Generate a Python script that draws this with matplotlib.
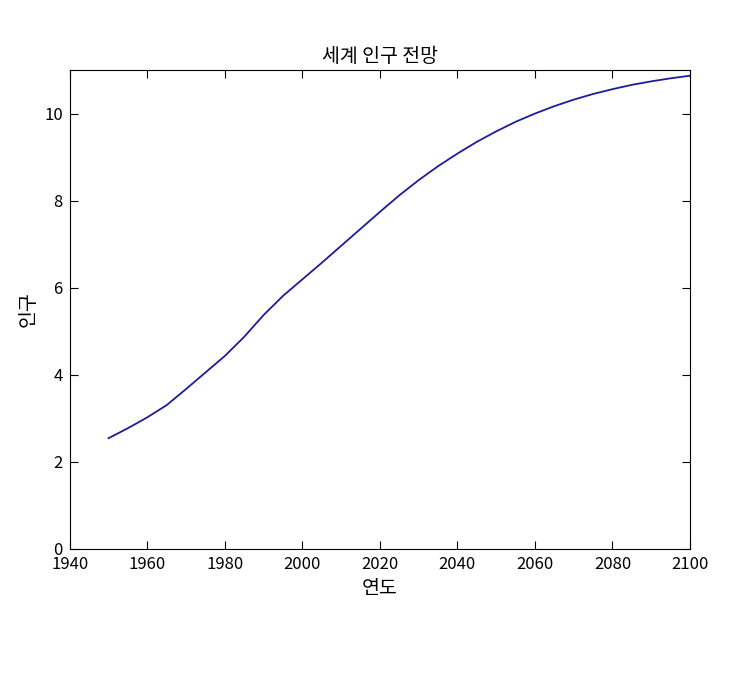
import matplotlib
matplotlib.use("Agg")
import matplotlib.pyplot as plt

plt.rcParams['font.family'] = ['Noto Sans CJK KR', 'DejaVu Sans']

years = [1950, 1955, 1960, 1965, 1970, 1975, 1980, 1985, 1990, 1995, 2000, 2005,
         2010, 2015, 2020, 2025, 2030, 2035, 2040, 2045, 2050, 2055, 2060, 2065,
         2070, 2075, 2080, 2085, 2090, 2095, 2100]
population = [2.54, 2.77, 3.02, 3.30, 3.67, 4.05, 4.43, 4.87, 5.37, 5.81, 6.19, 6.57,
              6.96, 7.35, 7.74, 8.12, 8.47, 8.79, 9.08, 9.35, 9.59, 9.81, 10.00, 10.17,
              10.32, 10.45, 10.56, 10.66, 10.74, 10.81, 10.87]

fig = plt.figure(figsize=(7.5, 6.8), dpi=100)
ax = fig.add_axes([0.093, 0.193, 0.827, 0.704])
ax.plot(years, population, color='#1c1c9c', linewidth=1.3)
ax.set_xlim(1940, 2100)
ax.set_ylim(0, 11)
ax.set_xticks(range(1940, 2101, 20))
ax.set_yticks(range(0, 11, 2))
ax.tick_params(direction='in', top=True, right=True, length=6, labelsize=12, pad=5)
ax.set_title('세계 인구 전망', fontsize=14)
ax.set_xlabel('연도', fontsize=14)
ax.set_ylabel('인구', fontsize=14)
fig.savefig('out.png')
